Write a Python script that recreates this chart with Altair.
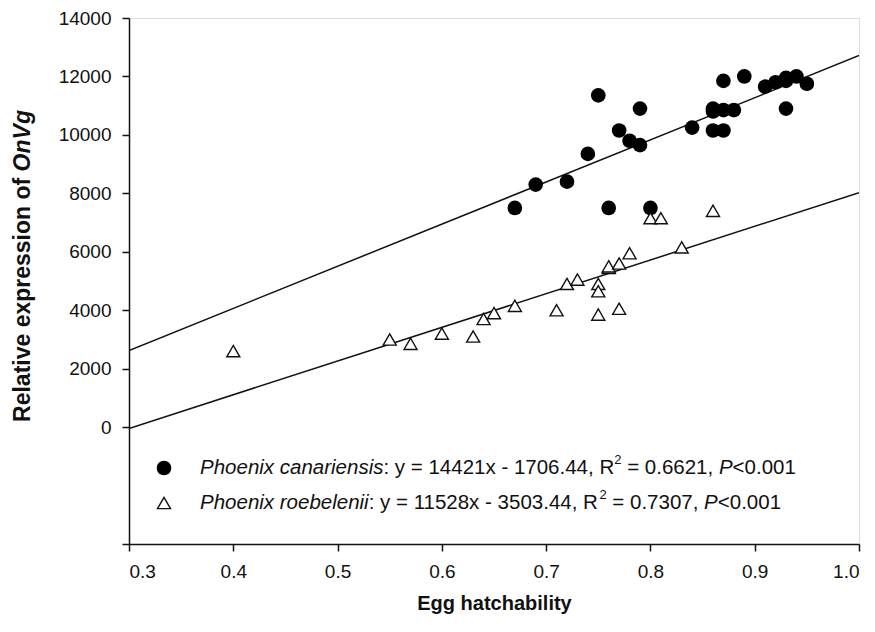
import altair as alt
import pandas as pd

# ---------------- data ----------------
can_x = [0.67, 0.69, 0.72, 0.74, 0.75, 0.76, 0.77, 0.78, 0.79, 0.79, 0.80, 0.84,
         0.86, 0.86, 0.86, 0.87, 0.87, 0.87, 0.88, 0.89, 0.91, 0.92, 0.93, 0.93,
         0.93, 0.94, 0.95]
can_y = [7500, 8300, 8400, 9350, 11350, 7500, 10150, 9800, 9650, 10900, 7500, 10250,
         10800, 10900, 10150, 11850, 10850, 10150, 10850, 12000, 11650, 11800, 11950,
         11850, 10900, 12000, 11750]

roe_x = [0.40, 0.55, 0.57, 0.60, 0.63, 0.64, 0.65, 0.67, 0.71, 0.72, 0.73, 0.75,
         0.75, 0.75, 0.76, 0.76, 0.77, 0.77, 0.78, 0.80, 0.81, 0.83, 0.86]
roe_y = [2600, 3000, 2850, 3200, 3100, 3700, 3900, 4150, 4000, 4900, 5050, 4900,
         4650, 3850, 5450, 5500, 5600, 4050, 5950, 7150, 7150, 6150, 7400]

species = ["Phoenix canariensis", "Phoenix roebelenii"]
slopes = [14421, 11528]
intercepts = [-1706.44, -3503.44]
slope_txt = ["14421x - 1706.44", "11528x - 3503.44"]
r2_txt = ["0.6621", "0.7307"]

x_ticks = [0.3, 0.4, 0.5, 0.6, 0.7, 0.8, 0.9, 1.0]
y_ticks = [-4000, 0, 2000, 4000, 6000, 8000, 10000, 12000, 14000]
x_domain = [0.3, 1.0]
y_domain = [-4000, 14000]

FONT = "Liberation Sans"
W, H = 730, 526
TOP = 10

pts = pd.DataFrame({
    "x": can_x + roe_x,
    "y": can_y + roe_y,
    "sp": [species[0]] * len(can_x) + [species[1]] * len(roe_x),
})

fit = pd.DataFrame({
    "x": [x_domain[0], x_domain[1]] * 2,
    "sp": [species[0]] * 2 + [species[1]] * 2,
})
fit["y"] = [slopes[i // 2] * fit["x"][i] + intercepts[i // 2] for i in range(4)]

xs = alt.Scale(domain=x_domain, nice=False, zero=False)
ys = alt.Scale(domain=y_domain, nice=False, zero=False)

xaxis = alt.Axis(values=x_ticks, format=".1f", title="Egg hatchability",
                 tickSize=7, tickWidth=1.5, domainWidth=1.5, domainColor="#111",
                 tickColor="#111", labelFont=FONT, labelFontSize=19, labelColor="#111",
                 labelPadding=11, titleFont=FONT, titleFontSize=20, titleFontWeight="bold",
                 titleColor="#111", titleBaseline="middle", titleY=59, grid=False)
yaxis = alt.Axis(values=y_ticks, labelExpr="datum.value < 0 ? '' : format(datum.value, 'd')",
                 title=None, tickSize=7, tickWidth=1.5, domainWidth=1.5, domainColor="#111",
                 tickColor="#111", labelFont=FONT, labelFontSize=19, labelColor="#111",
                 labelPadding=11, grid=False)

base_x = alt.X("x:Q", scale=xs, axis=xaxis)
base_y = alt.Y("y:Q", scale=ys, axis=yaxis)

CSIZE, TSIZE = 215, 170

lines = alt.Chart(fit).mark_line(color="#111", strokeWidth=1.5, clip=True).encode(
    x=base_x, y=base_y, detail="sp:N")

circles = alt.Chart(pts).transform_filter(alt.datum.sp == species[0]).mark_point(
    shape="circle", filled=True, color="#000", size=CSIZE, opacity=1).encode(x=base_x, y=base_y)

tris = alt.Chart(pts).transform_filter(alt.datum.sp == species[1]).mark_point(
    shape="triangle-up", filled=False, fill="white", stroke="#111", strokeWidth=1.4,
    size=TSIZE, opacity=1, fillOpacity=1).encode(x=base_x, y=base_y)

# ---------------- legend (mixed styles as text segments) ----------------
ARIAL = {' ': 278, ':': 278, 'y': 500, '=': 584, 'x': 500, '-': 333, '.': 278, ',': 278,
         'R': 722, '<': 584, 'P': 667, 'a': 556, 'b': 556, 'c': 500, 'e': 556, 'h': 556,
         'i': 222, 'l': 222, 'n': 556, 'o': 556, 'r': 333, 's': 500}


def tw(s, fs):
    return sum(ARIAL.get(ch, 556) for ch in s) * fs / 1000.0


LFS, SFS = 20.5, 13
ROW0 = 468 - 8 - TOP   # plot-relative y of first legend row
rows = []
for i, sp in enumerate(species):
    segs = [("it", sp), ("rg", ": y = " + slope_txt[i] + ", R"), ("sup", "2"),
            ("rg", " = " + r2_txt[i] + ", "), ("it", "P"), ("rg", "<0.001")]
    cur = 71.0
    py = ROW0 + 35 * i
    for kind, s in segs:
        fs = SFS if kind == "sup" else LFS
        lead = len(s) - len(s.lstrip(" "))
        rows.append({"px": cur + tw(" " * lead, fs), "py": py - (8 if kind == "sup" else 0),
                     "t": s.strip(), "k": kind})
        cur += tw(s, fs)
leg = pd.DataFrame(rows)

def leg_layer(kind, **kw):
    return alt.Chart(leg).transform_filter(alt.datum.k == kind).mark_text(
        align="left", baseline="middle", font=FONT, color="#111", **kw).encode(
        x=alt.X("px:Q", scale=None), y=alt.Y("py:Q", scale=None), text="t:N")

leg_it = leg_layer("it", fontSize=LFS, fontStyle="italic")
leg_rg = leg_layer("rg", fontSize=LFS)
leg_sup = leg_layer("sup", fontSize=SFS)

legm = pd.DataFrame({"px": [35, 35], "py": [ROW0, ROW0 + 35], "sp": species})
leg_c = alt.Chart(legm).transform_filter(alt.datum.sp == species[0]).mark_point(
    shape="circle", filled=True, color="#000", size=CSIZE, opacity=1).encode(
    x=alt.X("px:Q", scale=None), y=alt.Y("py:Q", scale=None))
leg_t = alt.Chart(legm).transform_filter(alt.datum.sp == species[1]).mark_point(
    shape="triangle-up", filled=False, fill="white", stroke="#111", strokeWidth=1.4,
    size=TSIZE, opacity=1).encode(x=alt.X("px:Q", scale=None), y=alt.Y("py:Q", scale=None))

# ---------------- y-axis title with italic gene name ----------------
YFS = 23
ytitle_parts = [("n", "Relative expression of "), ("i", "OnVg")]
BOLD = {'R': 722, 'e': 556, 'l': 278, 'a': 556, 't': 333, 'i': 278, 'v': 556, ' ': 278,
        'x': 556, 'p': 611, 'r': 389, 's': 556, 'o': 611, 'n': 611, 'f': 333,
        'O': 778, 'V': 667, 'g': 611}
total = sum(BOLD[c] for _, s in ytitle_parts for c in s) * YFS / 1000.0
ycur = 266 - 8 - TOP + total / 2
yrows = []
for k, s in ytitle_parts:
    yrows.append({"px": -106, "py": ycur, "t": s.strip(), "k": k})
    ycur -= sum(BOLD[c] for c in s) * YFS / 1000.0
ytd = pd.DataFrame(yrows)

def yt_layer(k, **kw):
    return alt.Chart(ytd).transform_filter(alt.datum.k == k).mark_text(
        align="left", baseline="middle", angle=270, font=FONT, fontSize=YFS,
        fontWeight="bold", color="#111", **kw).encode(
        x=alt.X("px:Q", scale=None), y=alt.Y("py:Q", scale=None), text="t:N")

yt_n = yt_layer("n")
yt_i = yt_layer("i", fontStyle="italic")

chart = alt.layer(lines, circles, tris, leg_c, leg_t, leg_it, leg_rg, leg_sup, yt_n, yt_i).properties(
    width=W, height=H,
    autosize=alt.AutoSizeParams(type="none"),
    padding={"left": 121, "top": TOP, "right": 8, "bottom": 80},
).configure_view(stroke="#111", strokeWidth=1.5).configure(background="white")

chart.save("out.html", embed_options={"renderer": "svg", "actions": False})
